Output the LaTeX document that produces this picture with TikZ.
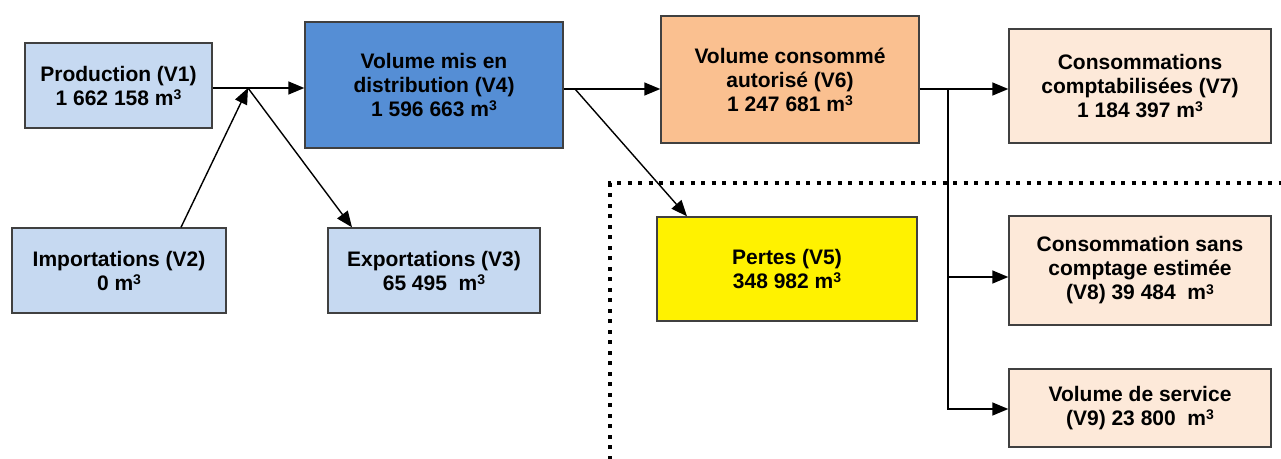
\documentclass[tikz,border=0pt]{standalone}
\usepackage{fontspec}
\setmainfont{Liberation Sans}
\usetikzlibrary{arrows.meta}
\definecolor{paleblue}{RGB}{198,217,241}
\definecolor{midblue}{RGB}{85,142,213}
\definecolor{apricot}{RGB}{250,192,144}
\definecolor{peach}{RGB}{253,233,217}
\newcommand{\cubem}{m\raisebox{5.5pt}{\fontsize{14}{14}\selectfont 3}}
\begin{document}
\begin{tikzpicture}[x=1pt,y=-1pt,
    box/.style={draw=black!75,line width=1.4pt,align=center,inner sep=0pt,
      font=\bfseries\fontsize{21}{24}\selectfont}]
  \useasboundingbox (0,0) rectangle (1281,458);
  \draw
    (118.5,85.5) node[box,fill=paleblue,minimum width=187pt,minimum height=85pt] (v1){Production (V1)\\1 662 158 \cubem}
    (119,270.5) node[box,fill=paleblue,minimum width=214pt,minimum height=85pt] (v2){Importations (V2)\\0 \cubem}
    (434,270.5) node[box,fill=paleblue,minimum width=212pt,minimum height=85pt] (v3){Exportations (V3)\\65 495~ \cubem}
    (434,85) node[box,fill=midblue,minimum width=258pt,minimum height=126pt] (v4){Volume mis en\\distribution (V4)\\1 596 663 \cubem}
    (787,269) node[box,fill=yellow,minimum width=260pt,minimum height=104pt] (v5){Pertes (V5)\\348 982 \cubem}
    (790,79.5) node[box,fill=apricot,minimum width=258pt,minimum height=127pt] (v6){Volume consommé\\autorisé (V6)\\1 247 681 \cubem}
    (1140,86) node[box,fill=peach,minimum width=262pt,minimum height=114pt] (v7){Consommations\\comptabilisées (V7)\\1 184 397 \cubem}
    (1140,270.5) node[box,fill=peach,minimum width=262pt,minimum height=109pt] (v8){Consommation sans\\comptage estimée\\(V8) 39 484~ \cubem}
    (1140,408) node[box,fill=peach,minimum width=262pt,minimum height=78pt] (v9){Volume de service\\(V9) 23 800~ \cubem};
  % junctions
  \coordinate (j1) at (248,88);
  \coordinate (j2) at (575,89);
  \coordinate (j3) at (948,89);
  % dotted frame
  \draw[line width=4pt,dash pattern=on 4pt off 6.5pt] (610,470) -- (610,183) -- (1290,183);
  \begin{scope}[-{Triangle[length=16pt,width=13pt]},line width=1.4pt]
    \draw[-] (v1.east |- j1) -- (j1);
    \draw (j1) -- (j1 -| v4.west);
    \draw ([xshift=62pt]v2.north) -- (j1);
    \draw (j1) -- ([xshift=-82pt]v3.north);
    \draw (j2 -| v4.east) -- (j2 -| v6.west);
    \draw (j2) -- ([xshift=-100pt]v5.north);
    \draw (j3 -| v6.east) -- (j3 -| v7.west);
    \draw (j3) |- ([yshift=-6.5pt]v8.west);
    \draw (j3) |- ([yshift=-1pt]v9.west);
  \end{scope}
\end{tikzpicture}
\end{document}
